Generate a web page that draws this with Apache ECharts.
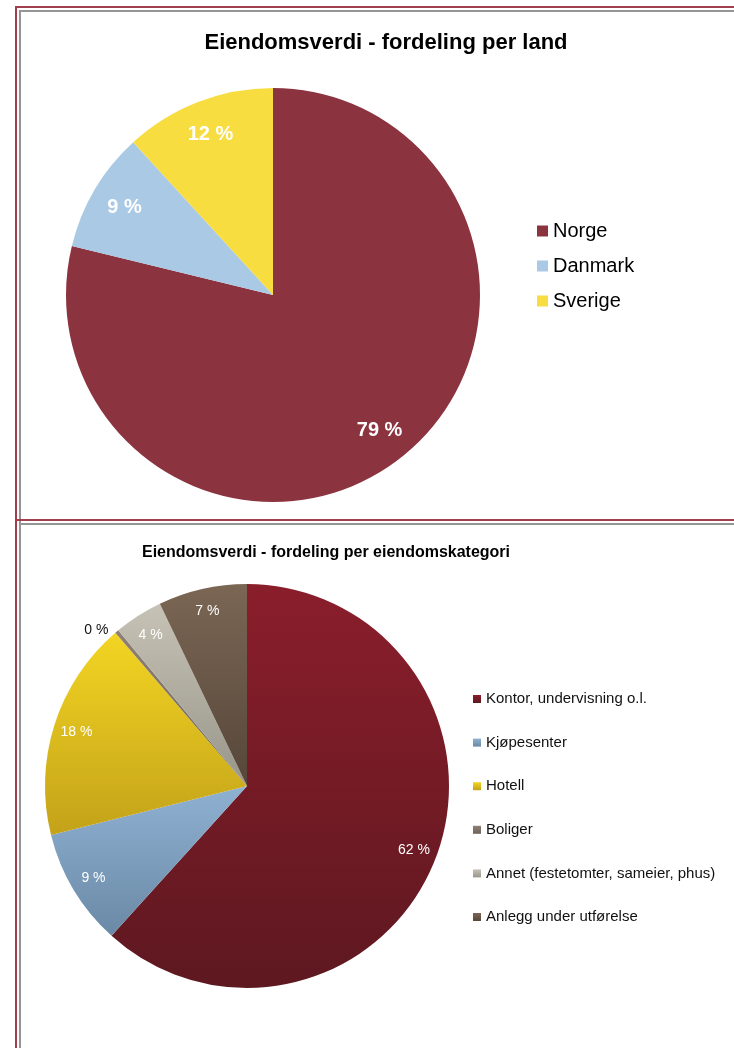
<!DOCTYPE html>
<html>
<head>
<meta charset="utf-8">
<script src="https://cdn.jsdelivr.net/npm/echarts@6/dist/echarts.min.js"></script>
<style>
  html, body { margin: 0; padding: 0; background: #fff; }
  #chart { width: 734px; height: 1048px; }
</style>
</head>
<body>
<div id="chart"></div>
<script>
// Eiendomsverdi per land
const landNames = ['Norge', 'Danmark', 'Sverige']
const landValues = [78.8, 9.4, 11.8]
const landColors = ['#8b3440', '#a9c9e5', '#f7dd40']

// Eiendomsverdi per eiendomskategori
const kategoriNames = [
  'Kontor, undervisning o.l.',
  'Kjøpesenter',
  'Hotell',
  'Boliger',
  'Annet (festetomter, sameier, phus)',
  'Anlegg under utførelse'
]
const kategoriValues = [61.7, 9.4, 17.6, 0.3, 3.9, 7.1]
// [topp, bunn] gradient
const kategoriColors = [
  ['#8a1e2b', '#5e1820'],
  ['#8fb1d2', '#6a89a6'],
  ['#f3d523', '#c3a219'],
  ['#8e8074', '#6e6258'],
  ['#c6c2b5', '#98958a'],
  ['#7b6654', '#56473a']
]

const FONT = '"Liberation Sans", Arial, sans-serif'

const grad = (c) => new echarts.graphic.LinearGradient(0, 0, 0, 1, [
  { offset: 0, color: c[0] },
  { offset: 1, color: c[1] }
])

const pctLabel = p => Math.round(p.value) + ' %'

const landData = landNames.map((n, i) => ({
  name: n, value: landValues[i], itemStyle: { color: landColors[i] }
}))
const kategoriData = kategoriNames.map((n, i) => ({
  name: n, value: kategoriValues[i], itemStyle: { color: grad(kategoriColors[i]) }
}))

// kopi kun for etiketter, så de havner nær kanten som i originalen
const landLabelData = landNames.map((n, i) => ({ name: n, value: landValues[i] }))
const kategoriLabelData = kategoriNames.map((n, i) => {
  const d = { name: n, value: kategoriValues[i] }
  if (kategoriValues[i] < 1) {
    d.label = { position: 'outside', color: '#111', fontSize: 14 }
    d.labelLine = { show: false, length: 2, length2: 2 }
  }
  return d
})

const chart = echarts.init(document.getElementById('chart'))

const redLine = { stroke: '#a0404e', lineWidth: 2 }
const greyLine = { stroke: '#959595', lineWidth: 2 }

const option = {
  animation: false,
  title: [
    {
      text: 'Eiendomsverdi - fordeling per land',
      left: 386, top: 32, textAlign: 'center', padding: 0,
      textStyle: { fontFamily: FONT, fontSize: 22, fontWeight: 'bold', color: '#000' }
    },
    {
      text: 'Eiendomsverdi - fordeling per eiendomskategori',
      left: 326, top: 545, textAlign: 'center', padding: 0,
      textStyle: { fontFamily: FONT, fontSize: 16, fontWeight: 'bold', color: '#000' }
    }
  ],
  legend: [
    {
      data: landNames,
      orient: 'vertical',
      left: 537, top: 221, padding: 0,
      icon: 'rect', itemWidth: 11, itemHeight: 11, itemGap: 15,
      selectedMode: false,
      textStyle: { fontFamily: FONT, fontSize: 20, lineHeight: 20, color: '#000' }
    },
    {
      data: kategoriNames,
      orient: 'vertical',
      left: 473, top: 691, padding: 0,
      icon: 'rect', itemWidth: 8, itemHeight: 8, itemGap: 27.6,
      selectedMode: false,
      textStyle: { fontFamily: FONT, fontSize: 15, lineHeight: 16, color: '#111' }
    }
  ],
  graphic: [
    { type: 'line', shape: { x1: 16, y1: 6, x2: 16, y2: 1048 }, style: redLine, silent: true },
    { type: 'line', shape: { x1: 15, y1: 7, x2: 734, y2: 7 }, style: redLine, silent: true },
    { type: 'line', shape: { x1: 20, y1: 10, x2: 20, y2: 1048 }, style: greyLine, silent: true },
    { type: 'line', shape: { x1: 19, y1: 11, x2: 734, y2: 11 }, style: greyLine, silent: true },
    { type: 'line', shape: { x1: 15, y1: 520, x2: 734, y2: 520 }, style: redLine, silent: true },
    { type: 'line', shape: { x1: 19, y1: 524, x2: 734, y2: 524 }, style: greyLine, silent: true }
  ],
  series: [
    {
      type: 'pie',
      center: [273, 295],
      radius: [0, 207],
      startAngle: 90,
      clockwise: true,
      silent: true,
      label: { show: false },
      labelLine: { show: false },
      data: landData
    },
    {
      type: 'pie',
      center: [273, 295],
      radius: [132, 207],
      startAngle: 90,
      clockwise: true,
      silent: true,
      avoidLabelOverlap: false,
      itemStyle: { color: 'rgba(0,0,0,0)' },
      label: {
        show: true, position: 'inside', formatter: pctLabel,
        fontFamily: FONT, fontSize: 20, fontWeight: 'bold', color: '#fff'
      },
      labelLine: { show: false },
      data: landLabelData
    },
    {
      type: 'pie',
      center: [247, 786],
      radius: [0, 202],
      startAngle: 90,
      clockwise: true,
      silent: true,
      label: { show: false },
      labelLine: { show: false },
      data: kategoriData
    },
    {
      type: 'pie',
      center: [247, 786],
      radius: [150, 202],
      startAngle: 90,
      clockwise: true,
      silent: true,
      avoidLabelOverlap: false,
      itemStyle: { color: 'rgba(0,0,0,0)' },
      label: {
        show: true, position: 'inside', formatter: pctLabel,
        fontFamily: FONT, fontSize: 14, color: '#fff'
      },
      labelLine: { show: false },
      data: kategoriLabelData
    }
  ]
}

chart.setOption(option)
</script>
</body>
</html>
